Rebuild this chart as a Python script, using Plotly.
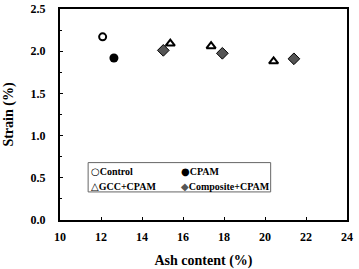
import plotly.graph_objects as go

control_x = [12.08]
control_y = [2.17]
cpam_x = [12.63]
cpam_y = [1.92]
gcc_x = [15.38, 17.37, 20.42]
gcc_y = [2.09, 2.06, 1.88]
comp_x = [15.04, 17.92, 21.41]
comp_y = [2.01, 1.975, 1.91]

x_ticks = [10, 12, 14, 16, 18, 20, 22, 24]
y_ticks = [0.0, 0.5, 1.0, 1.5, 2.0, 2.5]

FONT = "Liberation Serif"

fig = go.Figure()
fig.add_trace(go.Scatter(x=control_x, y=control_y, mode="markers", name="Control", showlegend=False,
                         marker=dict(symbol="circle-open", size=7, color="black", line=dict(width=2))))
fig.add_trace(go.Scatter(x=cpam_x, y=cpam_y, mode="markers", name="CPAM", showlegend=False,
                         marker=dict(symbol="circle", size=9, color="black")))
fig.add_trace(go.Scatter(x=gcc_x, y=gcc_y, mode="markers", name="GCC+CPAM", showlegend=False,
                         marker=dict(symbol="triangle-up-open", size=8, color="black", line=dict(width=2))))
fig.add_trace(go.Scatter(x=comp_x, y=comp_y, mode="markers", name="Composite+CPAM", showlegend=False,
                         marker=dict(symbol="diamond", size=9, color="#555555", line=dict(width=1, color="black"))))

axis_common = dict(showline=True, linecolor="black", linewidth=2, mirror=True, automargin=False,
                   ticks="inside", ticklen=3, tickcolor="black", showgrid=False, zeroline=False,
                   tickfont=dict(family=FONT, size=12, color="black"))

fig.update_xaxes(range=[10, 24], tickvals=x_ticks, ticktext=[f"<b>{v}</b>" for v in x_ticks],
                 ticklabelstandoff=5,
                 title=dict(text="<b>Ash content (%)</b>", font=dict(family=FONT, size=14, color="black"), standoff=14),
                 **axis_common)
fig.update_yaxes(range=[0, 2.5], tickvals=y_ticks, ticktext=[f"<b>{v:.1f}</b>" for v in y_ticks],
                 ticklabelstandoff=10,
                 minor=dict(tickvals=[0.25, 0.75, 1.25, 1.75, 2.25], ticks="inside", ticklen=2, tickcolor="black"),
                 title=dict(text="<b>Strain (%)</b>", font=dict(family=FONT, size=14, color="black"), standoff=14),
                 **axis_common)

sym = "font-family:DejaVu Sans;font-size:10px"
legend_items = [
    (f"<span style='{sym}'>○</span><b>Control</b>", 0.100, 0.232),
    (f"<span style='{sym}'>●</span><b>CPAM</b>", 0.415, 0.232),
    (f"<span style='{sym}'>△</span><b>GCC+CPAM</b>", 0.100, 0.158),
    (f"<span style='{sym};color:#555555'>◆</span><b>Composite+CPAM</b>", 0.415, 0.158),
]
annotations = [dict(text=t, x=x, y=y, xref="paper", yref="paper", xanchor="left", yanchor="middle",
                    showarrow=False, font=dict(family=FONT, size=10, color="black"))
               for t, x, y in legend_items]

fig.update_layout(
    width=359, height=269,
    margin=dict(l=60, r=12, t=9, b=49),
    paper_bgcolor="white", plot_bgcolor="white",
    showlegend=False,
    annotations=annotations,
    shapes=[dict(type="rect", xref="paper", yref="paper", x0=0.098, x1=0.734, y0=0.133, y1=0.272,
                 line=dict(color="#666666", width=1))],
)

fig.write_html("out.html")
